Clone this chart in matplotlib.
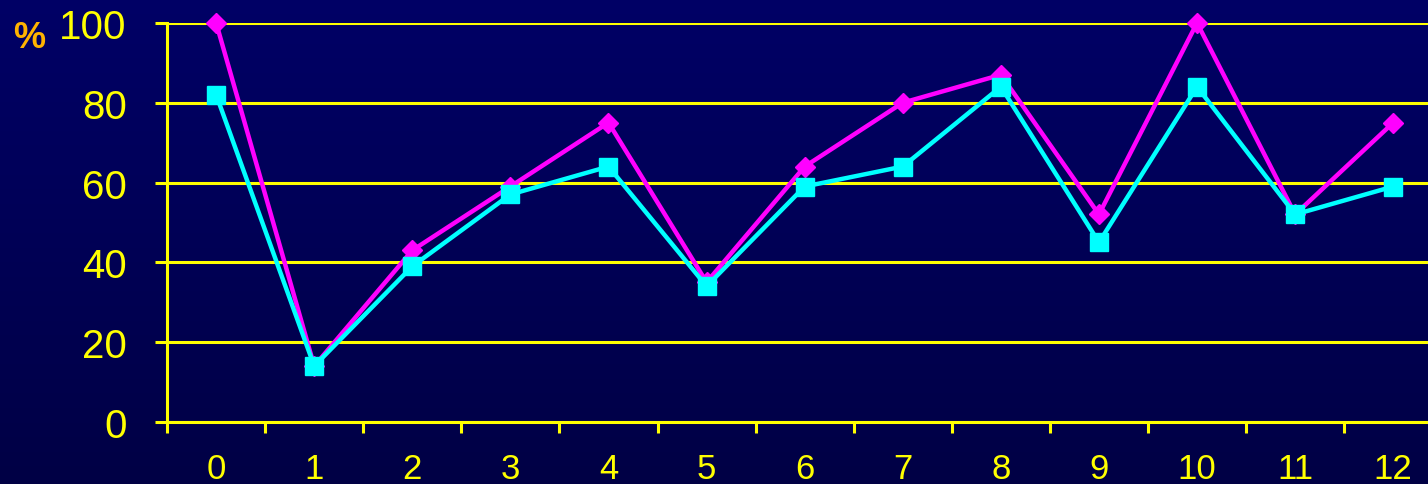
import numpy as np
import matplotlib.pyplot as plt

# valeurs des deux séries (en %)
mois = list(range(13))
serie_rose = [100, 14, 43, 59, 75, 35, 64, 80, 87, 52, 100, 52, 75]
serie_cyan = [82, 14, 39, 57, 64, 34, 59, 64, 84, 45, 84, 52, 59]
graduations_y = [0, 20, 40, 60, 80, 100]

plt.rcParams['font.family'] = ['Liberation Sans', 'DejaVu Sans']

fig = plt.figure(figsize=(14.28, 4.85), dpi=100)

# fond en dégradé bleu nuit
fond = fig.add_axes([0, 0, 1, 1], zorder=-1)
degrade = np.linspace(0, 1, 256).reshape(-1, 1)
couleurs = np.zeros((256, 1, 3))
couleurs[:, 0, 2] = 0.40 - 0.13 * degrade[:, 0]
fond.imshow(couleurs, aspect='auto', extent=[0, 1, 0, 1], origin='upper')
fond.axis('off')

ax = fig.add_axes([0.117, 0.128, 0.893, 0.8227])
ax.patch.set_alpha(0)

jaune = '#FFFF00'
ax.plot(mois, serie_rose, color='#FF00FF', lw=3.2, marker='D', ms=10,
        zorder=3, clip_on=False)
ax.plot(mois, serie_cyan, color='#00FFFF', lw=3.2, marker='s', ms=12.5,
        zorder=4, clip_on=False)

ax.set_xlim(-0.5, 12.5)
ax.set_ylim(0, 100)
ax.set_yticks(graduations_y)
ax.yaxis.grid(True, color=jaune, lw=2.2)
ax.set_axisbelow(True)

# graduations de l'axe x entre les catégories, étiquettes au centre
ax.set_xticks(np.arange(-0.5, 13, 1))
ax.set_xticklabels([])
ax.set_xticks(mois, minor=True)
ax.set_xticklabels([str(m) for m in mois], minor=True)
ax.tick_params(axis='x', which='major', length=8, width=2.2, color=jaune)
ax.tick_params(axis='x', which='minor', length=0, pad=22,
               labelsize=25, labelcolor=jaune)
ax.tick_params(axis='y', length=9, width=2.2, color=jaune, pad=20,
               labelsize=29, labelcolor=jaune)

for cote in ['top', 'right']:
    ax.spines[cote].set_visible(False)
for cote in ['left', 'bottom']:
    ax.spines[cote].set_color(jaune)
    ax.spines[cote].set_linewidth(2.2)

fig.text(0.0205, 0.921, '%', color='#FFB300', fontsize=26, fontweight='bold',
         ha='center', va='center')

plt.savefig('out.png', dpi=100)
